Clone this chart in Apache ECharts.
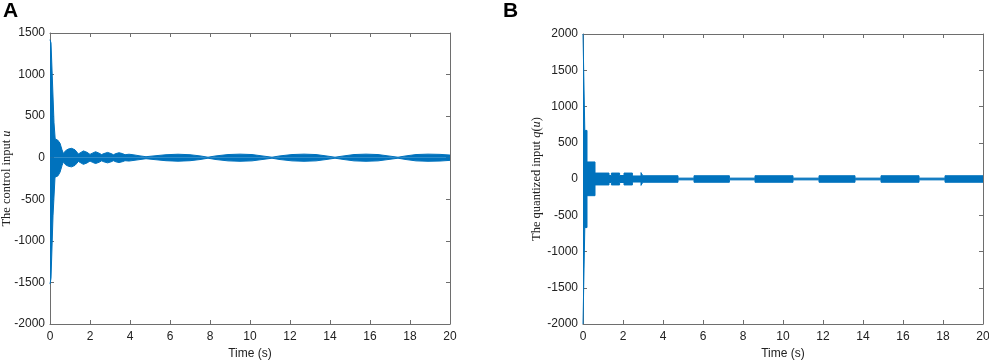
<!DOCTYPE html>
<html><head><meta charset="utf-8">
<script src="https://cdn.jsdelivr.net/npm/echarts@6/dist/echarts.min.js"></script>
<style>html,body{margin:0;padding:0;background:#fff}#c{width:989px;height:360px}</style>
</head><body><div id="c"></div>
<script>
// ---- Panel A: control input u (envelope of the fast oscillation) ----
const tA_upper = [0, 0.05, 0.2, 0.26, 0.32, 0.38, 0.5, 0.6, 0.67, 0.78, 0.92, 1.08, 1.25, 1.42, 1.52, 1.67, 1.85, 2.0, 2.12, 2.28, 2.45, 2.58, 2.7, 2.88, 3.05, 3.17, 3.3, 3.45, 3.62, 3.75, 3.95, 4.2, 4.5, 4.8, 5.2, 5.8, 6.4, 7.0, 7.5, 7.9, 8.3, 8.9, 9.5, 10.1, 10.6, 11.1, 11.5, 12.1, 12.7, 13.3, 13.8, 14.25, 14.7, 15.2, 15.8, 16.4, 16.9, 17.4, 17.8, 18.3, 18.9, 19.5, 20];
const uA_upper = [1420, 1380, 420, 225, 210, 213, 175, 95, 50, 85, 105, 113, 95, 45, 62, 82, 65, 40, 55, 72, 55, 38, 50, 64, 50, 36, 50, 60, 50, 36, 42, 34, 22, 12, 22, 36, 42, 36, 22, 6, 22, 38, 43, 38, 22, 6, 22, 38, 43, 38, 22, 6, 22, 38, 43, 38, 22, 6, 22, 38, 43, 40, 32];
const tA_lower = [0, 0.05, 0.15, 0.25, 0.32, 0.4, 0.5, 0.6, 0.67, 0.78, 0.92, 1.08, 1.25, 1.42, 1.52, 1.67, 1.85, 2.0, 2.12, 2.28, 2.45, 2.58, 2.7, 2.88, 3.05, 3.17, 3.3, 3.45, 3.62, 3.75, 3.95, 4.2, 4.5, 4.8, 5.2, 5.8, 6.4, 7.0, 7.5, 7.9, 8.3, 8.9, 9.5, 10.1, 10.6, 11.1, 11.5, 12.1, 12.7, 13.3, 13.8, 14.25, 14.7, 15.2, 15.8, 16.4, 16.9, 17.4, 17.8, 18.3, 18.9, 19.5, 20];
const uA_lower = [-1520, -1450, -700, -235, -215, -218, -175, -95, -50, -85, -103, -110, -92, -45, -60, -80, -63, -40, -55, -70, -55, -38, -50, -62, -50, -36, -50, -58, -48, -36, -40, -32, -22, -12, -22, -36, -42, -36, -22, -6, -22, -38, -43, -38, -22, -6, -22, -38, -43, -38, -22, -6, -22, -38, -43, -38, -22, -6, -22, -38, -43, -40, -32];

// ---- Panel B: quantized input q(u) (envelope of step levels) ----
const tB_upper = [0, 0.09, 0.09, 0.2, 0.2, 0.6, 0.6, 1.3, 1.3, 1.42, 1.42, 1.83, 1.83, 2.05, 2.05, 2.47, 2.47, 2.9, 2.9, 2.99, 2.99, 4.75, 4.75, 5.55, 5.55, 7.32, 7.32, 8.6, 8.6, 10.5, 10.5, 11.8, 11.8, 13.6, 13.6, 14.9, 14.9, 16.8, 16.8, 18.1, 18.1, 20];
const qB_upper = [2000, 2000, 670, 670, 235, 235, 82, 82, 48, 48, 82, 82, 48, 48, 82, 82, 42, 42, 88, 88, 45, 45, 12, 12, 45, 45, 12, 12, 45, 45, 12, 12, 45, 45, 12, 12, 45, 45, 12, 12, 45, 45];
const tB_lower = tB_upper;
const qB_lower = [-2000, -2000, -670, -670, -230, -230, -82, -82, -48, -48, -82, -82, -48, -48, -82, -82, -42, -42, -88, -88, -45, -45, -12, -12, -45, -45, -12, -12, -45, -45, -12, -12, -45, -45, -12, -12, -45, -45, -12, -12, -45, -45];

const xTicks = {min: 0, max: 20, interval: 2};
const yTicksA = {min: -2000, max: 1500, interval: 500};
const yTicksB = {min: -2000, max: 2000, interval: 500};

const BLUE = '#0072BD';
const AX = '#6e6e6e';
const FONT = 'Liberation Sans';
const SERIF = 'Liberation Serif';

function pairs(t, v) { return t.map((x, i) => [x, v[i]]); }
const plain = v => String(v);

function xAx(grid, pos, show) {
  return {
    type: 'value', gridIndex: grid, position: pos, ...xTicks,
    name: show ? 'Time (s)' : '', nameLocation: 'middle', nameGap: 24, nameMoveOverlap: false,
    nameTextStyle: {fontFamily: FONT, fontSize: 12, color: '#222'},
    axisLine: {show: true, onZero: false, lineStyle: {color: AX, width: 1}},
    axisTick: {show: true, inside: true, length: 4, lineStyle: {color: AX}},
    axisLabel: {show: show, margin: 7, fontFamily: FONT, fontSize: 12, color: '#222', formatter: plain},
    splitLine: {show: false}
  };
}
function yAx(grid, pos, ticks, show, name) {
  return {
    type: 'value', gridIndex: grid, position: pos, ...ticks,
    name: show ? name : '', nameLocation: 'middle', nameGap: grid === 0 ? 37 : 40, nameMoveOverlap: false,
    nameTextStyle: {fontFamily: SERIF, fontSize: 12.5, color: '#222',
      rich: {i: {fontFamily: SERIF, fontStyle: 'italic', fontSize: 12.5, color: '#222'}}},
    axisLine: {show: true, onZero: false, lineStyle: {color: AX, width: 1}},
    axisTick: {show: true, inside: true, length: 4, lineStyle: {color: AX}},
    axisLabel: {show: show, margin: 5, fontFamily: FONT, fontSize: 12, color: '#222', formatter: plain},
    splitLine: {show: false}
  };
}
function band(xi, yi, data) {
  return {
    type: 'line', xAxisIndex: xi, yAxisIndex: yi, data: data,
    showSymbol: false, symbol: 'none', animation: false,
    lineStyle: {color: BLUE, width: 1}, itemStyle: {color: BLUE},
    areaStyle: {color: BLUE, opacity: 1}
  };
}

const chart = echarts.init(document.getElementById('c'), null, {renderer: 'canvas'});
chart.setOption({
  animation: false,
  backgroundColor: '#fff',
  title: [
    {text: 'A', left: -2, top: -4, textStyle: {fontFamily: FONT, fontSize: 21, fontWeight: 'bold', color: '#000'}},
    {text: 'B', left: 498, top: -4, textStyle: {fontFamily: FONT, fontSize: 21, fontWeight: 'bold', color: '#000'}}
  ],
  grid: [
    {left: 50, right: 539, top: 33, bottom: 36, outerBoundsMode: 'none', containLabel: false},
    {left: 583, right: 6, top: 34, bottom: 36, outerBoundsMode: 'none', containLabel: false}
  ],
  xAxis: [xAx(0, 'bottom', true), xAx(0, 'top', false), xAx(1, 'bottom', true), xAx(1, 'top', false)],
  yAxis: [
    yAx(0, 'left', yTicksA, true, 'The control input {i|u}'),
    yAx(0, 'right', yTicksA, false, ''),
    yAx(1, 'left', yTicksB, true, 'The quantized input {i|q}({i|u})'),
    yAx(1, 'right', yTicksB, false, '')
  ],
  series: [
    band(0, 0, pairs(tA_upper, uA_upper)),
    band(0, 0, pairs(tA_lower, uA_lower)),
    band(2, 2, pairs(tB_upper, qB_upper)),
    band(2, 2, pairs(tB_lower, qB_lower))
  ]
});
</script></body></html>
